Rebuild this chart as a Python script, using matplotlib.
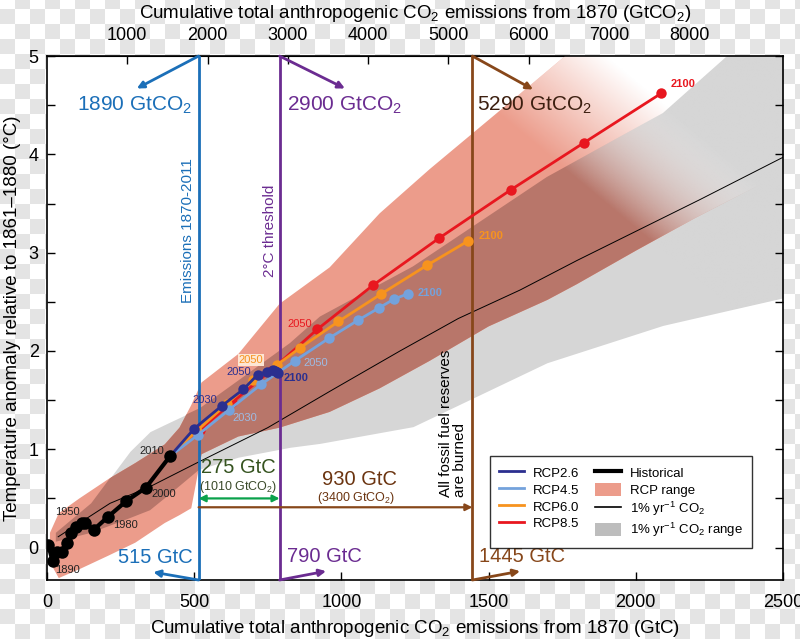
import numpy as np
import matplotlib
matplotlib.use('Agg')
import matplotlib.pyplot as plt
from matplotlib import font_manager
from matplotlib.lines import Line2D
from matplotlib.patches import Patch

# ---- data (GtC, degC) ----
hist_c = [4, 19, 35, 50, 67, 83, 100, 118, 129, 158, 206, 268, 336, 418]
hist_t = [0.03, -0.14, -0.05, -0.04, 0.05, 0.15, 0.21, 0.25, 0.25, 0.18, 0.31, 0.47, 0.61, 0.93]

rcp26_c = [418, 500, 593, 667, 716, 748, 766, 776, 782, 786]
rcp26_t = [0.93, 1.21, 1.44, 1.61, 1.76, 1.79, 1.81, 1.80, 1.79, 1.78]
rcp45_c = [418, 514, 618, 727, 842, 958, 1055, 1129, 1180, 1225]
rcp45_t = [0.93, 1.15, 1.40, 1.66, 1.90, 2.13, 2.31, 2.44, 2.53, 2.58]
rcp60_c = [418, 510, 610, 700, 782, 859, 990, 1135, 1290, 1431]
rcp60_t = [0.93, 1.19, 1.46, 1.70, 1.86, 2.03, 2.30, 2.58, 2.87, 3.12]
rcp85_c = [418, 520, 630, 760, 918, 1108, 1333, 1576, 1825, 2086]
rcp85_t = [0.93, 1.20, 1.48, 1.80, 2.22, 2.67, 3.15, 3.64, 4.12, 4.62]

pct_c = [38, 214, 350, 508, 750, 961, 1199, 1397, 1607, 1800, 2218, 2500]
pct_t = [0.11, 0.45, 0.62, 0.86, 1.22, 1.59, 2.0, 2.33, 2.62, 2.92, 3.54, 3.97]

# RCP range
rng_c = [10, 40, 110, 210, 300, 400, 450, 490, 525, 650, 790, 960, 1130, 1300, 1500, 1700, 1800, 2000, 2200, 2400, 2500]
rng_hi = [0.15, 0.35, 0.50, 0.70, 0.86, 1.05, 1.22, 1.45, 1.68, 1.97, 2.48, 2.85, 3.40, 3.85, 4.35, 4.85, 5.1, 5.6, 6.0, 6.4, 6.6]
rng_lo = [-0.15, -0.31, -0.22, -0.08, 0.05, 0.25, 0.33, 0.40, 0.95, 1.13, 1.22, 1.38, 1.62, 1.90, 2.25, 2.52, 2.68, 3.02, 3.35, 3.66, 3.80]

# 1% yr-1 CO2 range
pr_c = [30, 150, 282, 350, 420, 520, 650, 825, 927, 1243, 1698, 2092, 2310, 2500]
pr_hi = [0.15, 0.45, 0.98, 1.18, 1.28, 1.42, 1.70, 2.08, 2.35, 2.86, 3.77, 4.42, 5.0, 5.5]
pr_lo = [0.06, 0.15, 0.30, 0.38, 0.55, 0.80, 0.92, 1.02, 1.06, 1.23, 1.88, 2.26, 2.41, 2.54]

c_26, c_45, c_60, c_85 = '#2b2f8f', '#74a2dc', '#f7931e', '#e8171f'
c_salmon, c_dark, c_gray = '#ec9c8b', '#b8766a', '#d6d6d6'
c_blue, c_purple, c_brown = '#1b6fb8', '#6b2c91', '#87471a'

names = {f.name for f in font_manager.fontManager.ttflist}
narrow = 'Liberation Sans Narrow' if 'Liberation Sans Narrow' in names else 'Liberation Sans'
plt.rcParams['font.family'] = ['Liberation Sans', 'DejaVu Sans']
plt.rcParams['mathtext.fontset'] = 'custom'
plt.rcParams['mathtext.rm'] = 'Liberation Sans'
plt.rcParams['mathtext.it'] = 'Liberation Sans:italic'
plt.rcParams['mathtext.bf'] = 'Liberation Sans:bold'

fig = plt.figure(figsize=(8.0, 6.39), dpi=100)

# transparent-looking checker background
bg = fig.add_axes([0, 0, 1, 1], zorder=-10)
yy, xx = np.indices((639, 800)) // 15
bg.imshow(((xx + yy) % 2)[::-1], cmap=matplotlib.colors.ListedColormap(['#ffffff', '#e4e4e4']),
          interpolation='nearest', aspect='auto')
bg.axis('off')

ax = fig.add_axes([0.05875, 0.0923, 0.92, 0.82])
ax.set_facecolor('white')

# shaded ranges
gray = ax.fill_between(pr_c, pr_lo, pr_hi, color=c_gray, lw=0, zorder=1)
ax.fill_between(rng_c, rng_lo, rng_hi, color=c_salmon, lw=0, zorder=1.1)
dark = ax.fill_between(rng_c, rng_lo, rng_hi, color=c_dark, lw=0, zorder=1.2)
gpath = gray.get_paths()[0]
dark.set_clip_path(gpath, ax.transData)
rpath = dark.get_paths()[0]

# fade of the ranges toward the upper right
gx, gy = np.meshgrid(np.linspace(0, 2500, 600), np.linspace(-0.33, 5, 400))
fade = np.clip((gx + 400 * gy - 3300) / 600, 0, 1)
white = np.ones(gx.shape + (4,))
white[..., 3] = fade
im1 = ax.imshow(white, extent=[0, 2500, -0.33, 5], origin='lower', aspect='auto', zorder=1.3)
im1.set_clip_path(rpath, ax.transData)
grayimg = np.ones(gx.shape + (4,))
grayimg[..., :3] = matplotlib.colors.to_rgb(c_gray)
grayimg[..., 3] = fade
im2 = ax.imshow(grayimg, extent=[0, 2500, -0.33, 5], origin='lower', aspect='auto', zorder=1.4)
im2.set_clip_path(gpath, ax.transData)
ax.set_xlim(0, 2500)
ax.set_ylim(-0.33, 5)

ax.plot(pct_c, pct_t, color='black', lw=0.7, zorder=2)

# vertical thresholds
ax.axvline(515, color=c_blue, lw=2, zorder=3)
ax.axvline(790, color=c_purple, lw=2, zorder=3)
ax.axvline(1445, color=c_brown, lw=2, zorder=3)


def arrow(x0, y0, x1, y1, col, lw=2, both=False):
    ax.annotate('', xy=(x1, y1), xytext=(x0, y0),
                arrowprops=dict(arrowstyle='<|-|>' if both else '-|>', color=col, lw=lw,
                                mutation_scale=10, shrinkA=0, shrinkB=0),
                annotation_clip=False, zorder=6)


arrow(515, 5, 305, 4.67, c_blue)
arrow(790, 5, 1012, 4.67, c_purple)
arrow(1445, 5, 1651, 4.66, c_brown)
arrow(515, -0.33, 361, -0.25, c_blue)
arrow(790, -0.33, 948, -0.24, c_purple)
arrow(1445, -0.33, 1607, -0.24, c_brown)
arrow(515, 0.50, 790, 0.50, '#0aa14b', lw=1.6, both=True)
arrow(515, 0.41, 1445, 0.41, c_brown, lw=1.6)

ax.text(299, 4.5, '1890 GtCO$_2$', color=c_blue, fontsize=15, ha='center', va='center', zorder=7)
ax.text(1012, 4.5, '2900 GtCO$_2$', color=c_purple, fontsize=15, ha='center', va='center', zorder=7)
ax.text(1657, 4.5, '5290 GtCO$_2$', color='#3c1f10', fontsize=15, ha='center', va='center', zorder=7)
ax.text(367, -0.1, '515 GtC', color=c_blue, fontsize=14.5, ha='center', va='center', zorder=7)
ax.text(944, -0.09, '790 GtC', color=c_purple, fontsize=14.5, ha='center', va='center', zorder=7)
ax.text(1612, -0.09, '1445 GtC', color=c_brown, fontsize=14.5, ha='center', va='center', zorder=7)
ax.text(649, 0.81, '275 GtC', color='#35531f', fontsize=14.5, ha='center', va='center', zorder=7)
ax.text(649, 0.62, '(1010 GtCO$_2$)', color='#3a4a2a', fontsize=9, ha='center', va='center', zorder=7)
ax.text(1063, 0.69, '930 GtC', color='#6b3410', fontsize=14.5, ha='center', va='center', zorder=7)
ax.text(1050, 0.50, '(3400 GtCO$_2$)', color='#6b3410', fontsize=9, ha='center', va='center', zorder=7)
ax.text(479, 3.22, 'Emissions 1870-2011', color=c_blue, fontsize=11, rotation=90,
        ha='center', va='center', zorder=7)
ax.text(757, 3.22, '2°C threshold', color=c_purple, fontsize=11, rotation=90,
        ha='center', va='center', zorder=7)
ax.text(1379, 0.51, 'All fossil fuel reserves\nare burned', color='black', fontsize=11, rotation=90,
        ha='center', va='bottom', multialignment='left', linespacing=1.0, zorder=7)

# scenario lines
for cc, tt, col in [(rcp85_c, rcp85_t, c_85), (rcp60_c, rcp60_t, c_60),
                    (rcp45_c, rcp45_t, c_45), (rcp26_c, rcp26_t, c_26)]:
    ax.plot(cc, tt, color=col, lw=2, marker='o', ms=7.5, mec='none', zorder=4)
ax.plot(hist_c, hist_t, color='black', lw=3, marker='o', ms=9, mec='none', zorder=5)

lab = dict(fontsize=8, ha='center', va='center', zorder=7)
ax.text(71, -0.23, '1890', color='#222222', **lab)
ax.text(71, 0.36, '1950', color='#222222', **lab)
ax.text(265, 0.23, '1980', color='#222222', **lab)
ax.text(397, 0.55, '2000', color='#222222', **lab)
ax.text(357, 0.98, '2010', color='#222222', **lab)
ax.text(535, 1.50, '2030', color=c_26, **lab)
ax.text(652, 1.79, '2050', color=c_26, **lab)
ax.text(847, 1.73, '2100', color=c_26, fontweight='bold', **lab)
ax.text(673, 1.32, '2030', color='#9dbbe3', **lab)
ax.text(913, 1.88, '2050', color='#9dbbe3', **lab)
ax.text(1301, 2.59, '2100', color=c_45, fontweight='bold', **lab)
ax.text(693, 1.91, '2050', color=c_60,
        bbox=dict(facecolor='#fde6d4', edgecolor='none', pad=0.8), **lab)
ax.text(1508, 3.17, '2100', color=c_60, fontweight='bold', **lab)
ax.text(859, 2.27, '2050', color=c_85, **lab)
ax.text(2160, 4.72, '2100', color=c_85, fontweight='bold', **lab)

# axes, ticks
ax.set_xticks([0, 500, 1000, 1500, 2000, 2500])
ax.set_yticks([0, 1, 2, 3, 4, 5])
ax.set_yticks(np.arange(-0.0, 5.01, 0.5), minor=True)
ax.tick_params(which='both', direction='in', right=True, length=6, width=1)
ax.tick_params(axis='x', pad=10)
ax.tick_params(axis='y', pad=6)
for t in ax.get_xticklabels() + ax.get_yticklabels():
    t.set_fontfamily(narrow)
    t.set_fontsize(13)
for s in ax.spines.values():
    s.set_linewidth(1.2)

top = ax.secondary_xaxis('top', functions=(lambda x: x * 3.667, lambda x: x / 3.667))
top.set_xticks([1000, 2000, 3000, 4000, 5000, 6000, 7000, 8000])
top.tick_params(direction='in', length=6, width=1, pad=9)
for t in top.get_xticklabels():
    t.set_fontfamily(narrow)
    t.set_fontsize(13)
top.set_xlabel(r'Cumulative total anthropogenic CO$_{\mathregular{2}}$ emissions from 1870 (GtCO$_{\mathregular{2}}$)',
               fontfamily=narrow, fontsize=13.5, labelpad=6)
ax.set_xlabel(r'Cumulative total anthropogenic CO$_{\mathregular{2}}$ emissions from 1870 (GtC)',
              fontfamily=narrow, fontsize=13.5)
ax.xaxis.set_label_coords(0.5, -0.072)
ax.set_ylabel('Temperature anomaly relative to 1861–1880 (°C)', fontfamily=narrow, fontsize=13.5)
ax.yaxis.set_label_coords(-0.036, 0.5)

handles = [Line2D([], [], color=c_26, lw=2), Line2D([], [], color=c_45, lw=2),
           Line2D([], [], color=c_60, lw=2), Line2D([], [], color=c_85, lw=2),
           Line2D([], [], color='black', lw=3), Patch(color=c_salmon, lw=0),
           Line2D([], [], color='black', lw=1.2), Patch(color='#bdbdbd', lw=0)]
labels = ['RCP2.6', 'RCP4.5', 'RCP6.0', 'RCP8.5', 'Historical', 'RCP range',
          r'1% yr$^{\mathregular{-1}}$ CO$_{\mathregular{2}}$',
          r'1% yr$^{\mathregular{-1}}$ CO$_{\mathregular{2}}$ range']
leg = ax.legend(handles, labels, ncol=2, loc='lower right', bbox_to_anchor=(0.958, 0.061),
                fontsize=9.5, frameon=True, fancybox=False, edgecolor='black',
                handlelength=1.9, handleheight=1.15, handletextpad=0.7, columnspacing=1.2,
                labelspacing=0.22, borderpad=0.7, borderaxespad=0)
leg.get_frame().set_linewidth(1)
leg.set_zorder(10)

plt.savefig('out.png', dpi=100)
